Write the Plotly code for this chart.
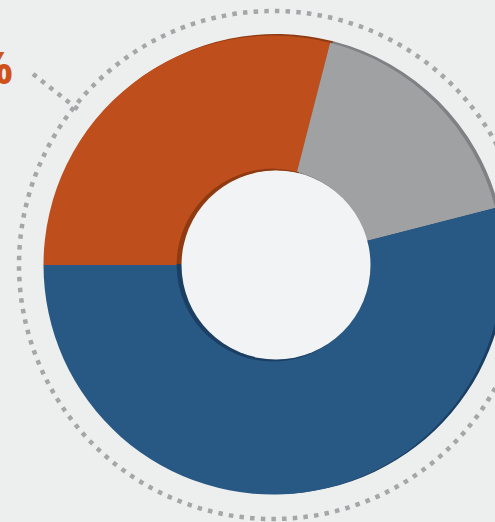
import plotly.graph_objects as go

# ---- data ----
labels = ["Orange", "Gray", "Blue"]
values = [29, 17, 54]
label_text = "29%"

# ---- style ----
colors = ["#BE4F1C", "#A0A1A3", "#285985"]
shadow_colors = ["#8E3A13", "#808184", "#1B3F62"]
BG = "#EDEEEE"
HOLE_BG = "#F2F3F4"

W, H = 506, 522

def px(x):
    return x / W

def py(y):
    return (H - y) / H

# front donut: centre (273, 265), radius 229.5
cx, cy, r = 273, 265, 229.5
front_dom = dict(x=[px(cx - r), px(cx + r)], y=[py(cy + r), py(cy - r)])
# shadow donut slightly offset right/up
scx, scy, sr = 276, 264, 230
back_dom = dict(x=[px(scx - sr), min(1, px(scx + sr))], y=[py(scy + sr), py(scy - sr)])

fig = go.Figure()
fig.add_trace(go.Pie(
    labels=labels, values=values, sort=False, direction="clockwise", rotation=270,
    hole=0.405, marker=dict(colors=shadow_colors, line=dict(width=0)),
    textinfo="none", hoverinfo="skip", domain=back_dom, showlegend=False,
))
fig.add_trace(go.Pie(
    labels=labels, values=values, sort=False, direction="clockwise", rotation=270,
    hole=0.42, marker=dict(colors=colors, line=dict(width=0)),
    textinfo="none", hoverinfo="label+percent", domain=front_dom, showlegend=False,
))

hx, hy, hr = 276, 265, 94.5
shapes = [
    # dotted outer ring
    dict(type="circle", xref="paper", yref="paper",
         x0=px(273 - 254), x1=px(273 + 254), y0=py(265 + 254), y1=py(265 - 254),
         line=dict(color="#A5A6A8", width=4.5, dash="4.5px,6.2px"), layer="below"),
    # leader line
    dict(type="line", xref="paper", yref="paper",
         x0=px(33), y0=py(74), x1=px(80), y1=py(111),
         line=dict(color="#A5A6A8", width=4.5, dash="4.5px,6px")),
    # light hole fill
    dict(type="circle", xref="paper", yref="paper",
         x0=px(hx - hr), x1=px(hx + hr), y0=py(hy + hr), y1=py(hy - hr),
         fillcolor=HOLE_BG, line=dict(width=0), layer="above"),
]

fig.update_layout(
    width=W, height=H,
    margin=dict(l=0, r=0, t=0, b=0),
    paper_bgcolor=BG, plot_bgcolor=BG,
    shapes=shapes,
    annotations=[dict(
        text="<b>" + label_text + "</b>", xref="paper", yref="paper",
        x=px(15), y=py(67), xanchor="right", yanchor="middle", showarrow=False,
        font=dict(family="Open Sans", size=44, color="#D0521B"),
    )],
)

fig.write_html("out.html")
